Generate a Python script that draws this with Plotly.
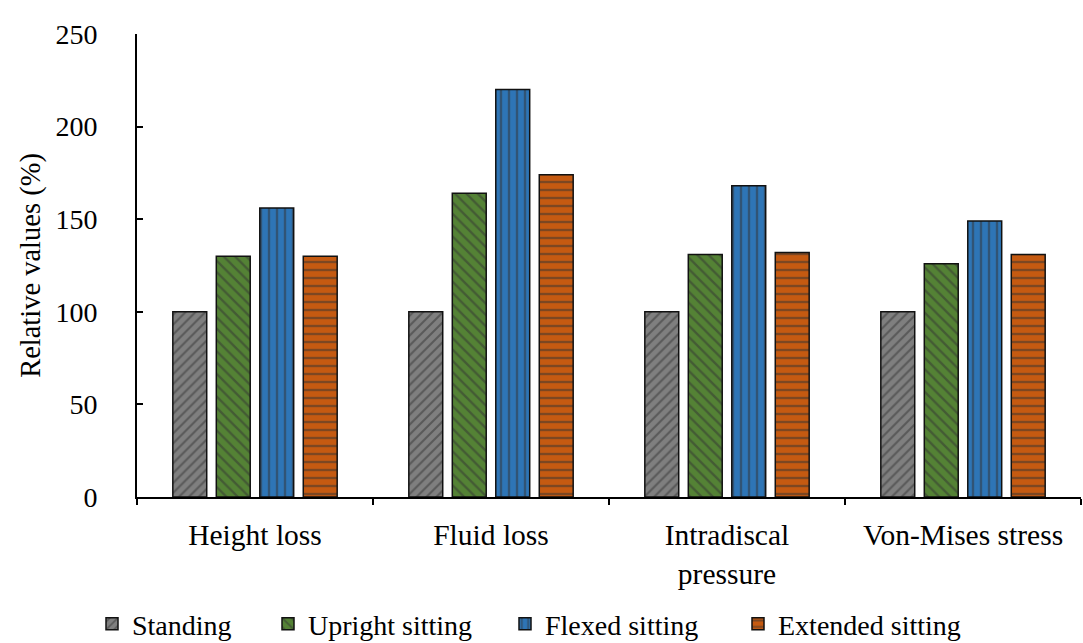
import plotly.graph_objects as go

categories = ["Height loss", "Fluid loss", "Intradiscal<br>pressure", "Von-Mises stress"]
series_names = ["Standing", "Upright sitting", "Flexed sitting", "Extended sitting"]
standing = [100, 100, 100, 100]
upright = [130, 164, 131, 126]
flexed = [156, 220, 168, 149]
extended = [130, 174, 132, 131]
y_ticks = [0, 50, 100, 150, 200, 250]

colors = ["#7f7f7f", "#548235", "#2e75b6", "#c55a11"]
patterns = ["/", "\\", "|", "-"]
pattern_sizes = [7, 8, 8, 8]
values = [standing, upright, flexed, extended]
legend_ids = ["legend", "legend2", "legend3", "legend4"]
legend_text_px = [132, 308, 545, 778]  # text start pixel positions of legend entries

PLOT_L, PLOT_R, PLOT_T, PLOT_B = 137, 1081, 34, 497
W, H = 1083, 643

fig = go.Figure()
for name, vals, col, pat, ps, lid in zip(series_names, values, colors, patterns, pattern_sizes, legend_ids):
    fig.add_trace(go.Bar(
        x=categories, y=vals, name=name, legend=lid,
        marker=dict(color=col, line=dict(color="#111111", width=1.5),
                    pattern=dict(shape=pat, fgcolor="#333333", bgcolor=col,
                                 size=ps, solidity=0.3, fillmode="overlay")),
    ))

font = "Liberation Serif, Times New Roman, serif"
pw = PLOT_R - PLOT_L
ph = PLOT_B - PLOT_T
legends = {}
for lid, tx in zip(legend_ids, legend_text_px):
    legends[lid] = dict(orientation="h", x=(tx - 40 - PLOT_L) / pw, xanchor="left",
                        y=-(624 - PLOT_B) / ph, yanchor="middle",
                        font=dict(size=28, family=font), itemwidth=30,
                        bgcolor="rgba(0,0,0,0)", borderwidth=0)

fig.update_layout(
    width=W, height=H,
    margin=dict(l=PLOT_L, r=W - PLOT_R, t=PLOT_T, b=H - PLOT_B, autoexpand=False),
    plot_bgcolor="white", paper_bgcolor="white",
    barmode="group", bargap=0.263, bargroupgap=0.22,
    font=dict(family=font, size=28, color="black"),
    showlegend=True,
    xaxis=dict(showline=True, linecolor="black", linewidth=2,
               ticks="outside", tickson="boundaries", ticklen=6, tickwidth=2,
               tickcolor="black", tickfont=dict(size=29.5, family=font),
               ticklabelstandoff=11),
    yaxis=dict(range=[0, 250], tickvals=y_ticks, showline=True, linecolor="black",
               linewidth=2, ticks="inside", ticklen=6, tickwidth=2, tickcolor="black",
               showgrid=False, zeroline=False, tickfont=dict(size=28, family=font),
               ticklabelstandoff=32,
               title=dict(text="Relative values (%)", font=dict(size=28.5, family=font), standoff=6)),
    **legends,
)

fig.write_html("out.html")
